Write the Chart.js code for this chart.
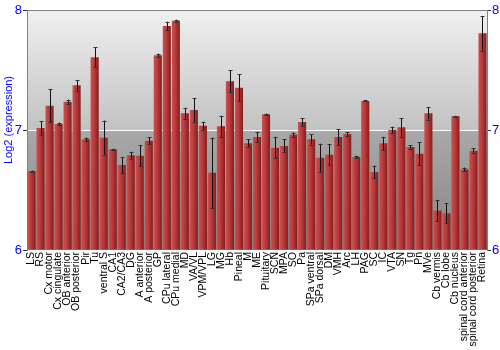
<!DOCTYPE html>
<html>
<head>
<meta charset="utf-8">
<script src="https://cdn.jsdelivr.net/npm/chart.js@4"></script>
<style>
html,body{margin:0;padding:0;background:#fff;}
#wrap{width:500px;height:350px;}
</style>
</head>
<body>
<div id="wrap"><canvas id="c" width="500" height="350"></canvas></div>
<script>
const categories = ["LS","RS","Cx motor","Cx cingulate","OB anterior","OB posterior","Pir","Tu","ventral S","CA1","CA2/CA3","DG","A anterior","A posterior","GP","CPu lateral","CPu medial","MD","VA/VL","VPM/VPL","LG","MG","Hb","Pineal","M","ME","Pituitary","SCN","MPA","SO","Pa","SPa ventral","SPa dorsal","DM","VMH","Arc","LH","PAG","SC","IC","VTA","SN","Tg","Pn","MVe","Cb vermis","Cb lobe","Cb nucleus","spinal cord anterior","spinal cord posterior","Retina"];
const values = [6.658,7.017,7.203,7.050,7.236,7.372,6.922,7.606,6.936,6.839,6.708,6.789,6.786,6.911,7.622,7.867,7.911,7.139,7.167,7.036,6.644,7.031,7.406,7.353,6.889,6.942,7.131,6.853,6.867,6.961,7.067,6.922,6.769,6.794,6.942,6.967,6.775,7.242,6.650,6.889,7.000,7.022,6.858,6.803,7.139,6.328,6.306,7.114,6.672,6.828,7.806];
const errors = [0.004,0.055,0.138,0.012,0.017,0.043,0.015,0.083,0.143,0.005,0.067,0.030,0.089,0.030,0.014,0.036,0.008,0.046,0.097,0.033,0.293,0.088,0.090,0.110,0.033,0.038,0.006,0.090,0.054,0.018,0.030,0.044,0.117,0.088,0.067,0.014,0.010,0.004,0.054,0.054,0.028,0.078,0.015,0.094,0.053,0.085,0.083,0.004,0.015,0.018,0.144];
const yTicks = [6,7,8];
const yTitle = "Log2 (expression)";

const bgPlugin = {
  id:'bg',
  beforeDraw(chart){
    const {ctx, chartArea:a, scales:{y}} = chart;
    const y7 = y.getPixelForValue(7);
    ctx.save();
    let g = ctx.createLinearGradient(0,a.top,0,y7);
    g.addColorStop(0,'#f0f0f0'); g.addColorStop(1,'#c2c2c2');
    ctx.fillStyle = g; ctx.fillRect(a.left,a.top,a.right-a.left,y7-a.top);
    g = ctx.createLinearGradient(0,y7,0,a.bottom);
    g.addColorStop(0,'#a9a9a9'); g.addColorStop(1,'#858585');
    ctx.fillStyle = g; ctx.fillRect(a.left,y7,a.right-a.left,a.bottom-y7);
    ctx.strokeStyle='#808080'; ctx.lineWidth=1;
    ctx.beginPath(); ctx.moveTo(a.left,a.top+0.5); ctx.lineTo(a.right,a.top+0.5); ctx.stroke();
    ctx.restore();
  },
  afterDraw(chart){
    const {ctx, chartArea:a} = chart;
    ctx.save();
    ctx.translate(9,(a.top+a.bottom)/2-10);
    ctx.rotate(-Math.PI/2);
    ctx.fillStyle='#0000ff';
    ctx.font='11px "Liberation Sans", Arial, sans-serif';
    ctx.textAlign='center'; ctx.textBaseline='middle';
    ctx.fillText(yTitle,0,0);
    ctx.restore();
  }
};

const errPlugin = {
  id:'err',
  afterDatasetsDraw(chart){
    const {ctx, scales:{x,y}} = chart;
    ctx.save();
    values.forEach((v,i)=>{
      const px = Math.round(x.getPixelForValue(i))+0.5;
      const t = y.getPixelForValue(v+errors[i]);
      const b = y.getPixelForValue(v-errors[i]);
      ctx.strokeStyle='#111'; ctx.lineWidth=1;
      ctx.beginPath(); ctx.moveTo(px,t); ctx.lineTo(px,b); ctx.stroke();
      ctx.strokeStyle='#333';
      ctx.beginPath();
      ctx.moveTo(px-2,Math.round(t)+0.5); ctx.lineTo(px+2,Math.round(t)+0.5);
      ctx.moveTo(px-2,Math.round(b)+0.5); ctx.lineTo(px+2,Math.round(b)+0.5);
      ctx.stroke();
    });
    ctx.restore();
  }
};

function barColor(c){
  const chart = c.chart;
  if(!chart.chartArea || !chart.scales.x) return '#b03434';
  const x = chart.scales.x.getPixelForValue(c.dataIndex);
  const g = chart.ctx.createLinearGradient(x-4,0,x+4,0);
  g.addColorStop(0,'#cc5050');
  g.addColorStop(0.45,'#b83a3a');
  g.addColorStop(1,'#861c1c');
  return g;
}

const font = {family:'"Liberation Sans", Arial, sans-serif'};
new Chart(document.getElementById('c'),{
  type:'bar',
  data:{labels:categories,datasets:[{data:values,backgroundColor:barColor,borderWidth:0,categoryPercentage:1,barPercentage:0.9,base:6}]},
  options:{
    responsive:false,animation:false,
    layout:{padding:{top:10,left:0,right:0,bottom:0}},
    plugins:{legend:{display:false},tooltip:{enabled:false}},
    scales:{
      x:{
        grid:{display:false,drawTicks:false},
        border:{display:false},
        ticks:{autoSkip:false,maxRotation:90,minRotation:90,padding:2,color:'#000',font:{...font,size:10.5}},
        afterFit(s){s.height=100;}
      },
      y:{
        min:6,max:8,
        afterBuildTicks(s){s.ticks=yTicks.map(v=>({value:v}));},
        grid:{color:c=>c.tick&&c.tick.value===7?'#ffffff':'rgba(0,0,0,0)',lineWidth:1,drawTicks:true,tickLength:4,tickColor:'#333'},
        border:{display:true,color:'#808080'},
        ticks:{color:'#0000ff',padding:1,font:{...font,size:13}},
        afterFit(s){s.width=27;}
      },
      y2:{
        position:'right',min:6,max:8,
        afterBuildTicks(s){s.ticks=yTicks.map(v=>({value:v}));},
        grid:{drawOnChartArea:false,drawTicks:true,tickLength:4,tickColor:'#333'},
        border:{display:true,color:'#808080'},
        ticks:{color:'#0000ff',padding:1,font:{...font,size:13}},
        afterFit(s){s.width=13;}
      }
    }
  },
  plugins:[bgPlugin,errPlugin]
});
</script>
</body>
</html>
